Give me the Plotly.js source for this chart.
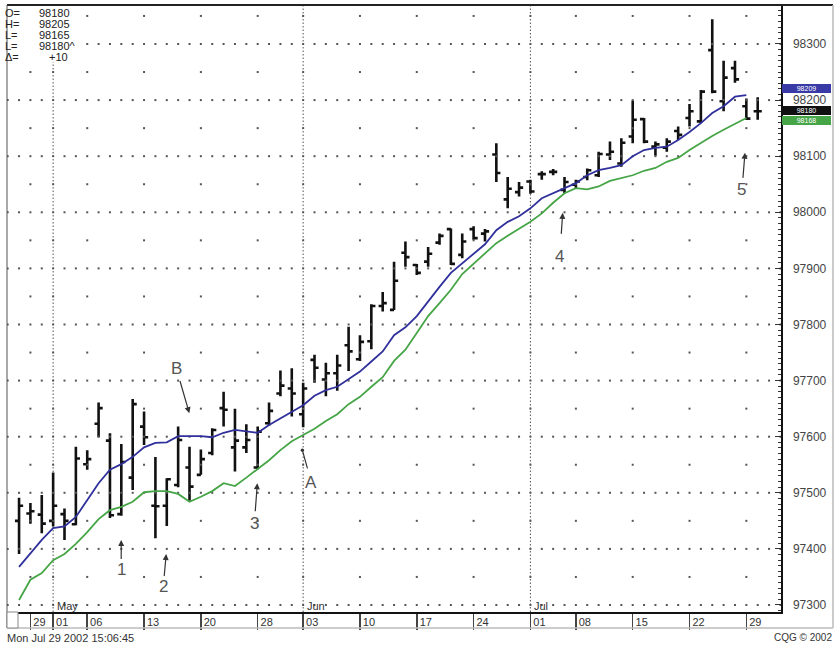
<!DOCTYPE html>
<html><head><meta charset="utf-8">
<script src="https://cdn.plot.ly/plotly-3.0.1.min.js"></script>
<style>html,body{margin:0;padding:0;background:#fff;}#chart{width:839px;height:648px;}</style>
</head><body><div id="chart"></div>
<script>
// ---- data ----
const openP  = [97450,97463,97461,97450,97462,97444,97551,97623,97593,97462,97527,97618,97477,97477,97514,97545,97532,97571,97651,97581,97581,97545,97624,97677,97686,97640,97737,97702,97713,97763,97738,97770,97833,97826,97928,97906,97912,97946,97970,97924,97970,97962,98103,98023,98036,98055,98068,98072,98040,98049,98063,98066,98103,98087,98135,98166,98117,98115,98145,98168,98162,98289,98198,98257,98189,98180];
const highP  = [97491,97482,97496,97536,97472,97582,97576,97661,97606,97587,97667,97645,97564,97526,97618,97582,97577,97615,97680,97650,97622,97618,97661,97718,97722,97696,97746,97732,97746,97796,97781,97836,97858,97912,97948,97908,97938,97962,97971,97962,97975,97970,98123,98063,98054,98058,98073,98077,98063,98058,98078,98108,98126,98132,98199,98168,98126,98132,98153,98193,98218,98344,98270,98270,98203,98205];
const lowP   = [97391,97445,97428,97440,97416,97442,97541,97599,97455,97459,97505,97585,97419,97441,97510,97486,97532,97567,97618,97538,97571,97542,97620,97672,97636,97617,97696,97672,97682,97717,97735,97756,97823,97826,97903,97888,97903,97942,97906,97918,97951,97948,98054,98007,98028,98033,98058,98066,98034,98043,98057,98063,98093,98081,98123,98123,98101,98108,98129,98153,98159,98212,98180,98231,98165,98165];
const closeP = [97477,97467,97445,97477,97450,97561,97560,97651,97460,97555,97658,97599,97476,97524,97594,97511,97560,97612,97648,97593,97594,97609,97646,97691,97677,97686,97723,97713,97727,97752,97769,97833,97838,97878,97920,97892,97926,97958,97908,97948,97954,97966,98070,98042,98044,98037,98068,98072,98054,98055,98075,98104,98108,98124,98165,98126,98121,98126,98138,98180,98215,98215,98240,98237,98167,98180];
const blueMA = [97368,97392,97416,97437,97440,97457,97487,97517,97541,97551,97564,97581,97589,97590,97601,97601,97601,97599,97607,97612,97610,97607,97621,97633,97645,97656,97673,97683,97689,97703,97716,97734,97752,97781,97795,97815,97842,97867,97892,97909,97926,97943,97968,97983,97993,98007,98025,98034,98042,98052,98066,98075,98079,98084,98100,98111,98115,98117,98129,98143,98159,98177,98189,98206,98209,null];
const greenMA= [97309,97345,97357,97380,97391,97409,97430,97453,97469,97475,97484,97501,97503,97503,97498,97484,97493,97503,97517,97512,97527,97542,97558,97576,97592,97603,97614,97628,97640,97658,97671,97689,97706,97735,97755,97785,97815,97838,97862,97890,97908,97927,97945,97958,97970,97983,97998,98017,98034,98043,98041,98046,98056,98061,98066,98074,98079,98090,98097,98111,98124,98136,98147,98157,98168,null];
const barIdx = openP.map((_, i) => i);
const tickIdx  = [1,3,6,11,16,21,25,30,35,40,45,49,54,59,64];
const tickText = ['29','01','06','13','20','28','03','10','17','24','01','08','15','22','29'];
const monthIdx = [3,25,45];
const monthText = ['May','Jun','Jul'];
const gridLevels = [97300,97400,97500,97600,97700,97800,97900,98000,98100,98200,98300];
const halfLevels = [97350,97450,97550,97650,97750,97850,97950,98050,98150,98250,98350];
const header = [['O=','98180'],['H=','98205'],['L=','98165'],['L=','98180^'],['\u0394=','+10']];
const calloutText = ['1','2','3','4','5','B','A'];
const arrowX      = [8.99,12.95,20.97,47.84,63.88,14.98,24.93];
const arrowY      = [97416,97391,97517,97999,98106,97642,97576];
const labelDX     = [0,-3,-3,-3,-3,-13,9];
const labelDY     = [30,33,40,44,37,-45,32];
const labelGap    = [1,1,2,13,2,3,4];

// ---- helpers (pixel -> paper) ----
const px = x => (x - 7) / 774;
const py = y => (612 - y) / 607;
const FONT = 'Liberation Sans, Arial, sans-serif';

// dotted grid rows: a dot at every bar slot (plus one slot either side)
const gridSlots = [-1].concat(barIdx, [barIdx.length, barIdx.length + 1]);
const gX = [], gY = [];
gridLevels.forEach(l => gridSlots.forEach(s => { gX.push(s); gY.push(l); }));
const dotX = [], dotY = [];
tickIdx.forEach(t => halfLevels.forEach(h => { dotX.push(t); dotY.push(h); }));

const traces = [
  {type:'scatter', mode:'markers', x:gX, y:gY, marker:{size:2, color:'#555', symbol:'square'}, hoverinfo:'skip'},
  {type:'scatter', mode:'markers', x:dotX, y:dotY, marker:{size:2, color:'#555', symbol:'square'}, hoverinfo:'skip'},
  {type:'scatter', mode:'lines', x:barIdx, y:greenMA, line:{color:'#46a546', width:1.8}, hoverinfo:'skip'},
  {type:'scatter', mode:'lines', x:barIdx, y:blueMA, line:{color:'#30309c', width:1.8}, hoverinfo:'skip'},
  {type:'ohlc', x:barIdx, open:openP, high:highP, low:lowP, close:closeP, tickwidth:0.36,
   increasing:{line:{color:'#111', width:2.6}}, decreasing:{line:{color:'#111', width:2.6}}, hoverinfo:'skip'}
];

const shapes = [];
monthIdx.forEach(m => shapes.push({type:'line', xref:'x', yref:'paper', x0:m, x1:m, y0:0, y1:1,
  line:{color:'#555', width:1, dash:'1.5px,2px'}, layer:'below'}));
shapes.push({type:'rect', xref:'paper', yref:'paper', x0:px(7), x1:px(84), y0:py(62), y1:py(6), fillcolor:'#fff', line:{width:0}, layer:'above'});
shapes.push({type:'line', xref:'paper', yref:'paper', x0:px(7), x1:px(833), y0:py(5), y1:py(5), line:{color:'#222', width:2}});
shapes.push({type:'line', xref:'paper', yref:'paper', x0:px(7), x1:px(7), y0:py(5), y1:py(628), line:{color:'#555', width:1}});
shapes.push({type:'line', xref:'paper', yref:'paper', x0:px(833), x1:px(833), y0:py(5), y1:py(628), line:{color:'#bbb', width:1.5}});
shapes.push({type:'line', xref:'paper', yref:'paper', x0:px(7), x1:px(833), y0:py(628), y1:py(628), line:{color:'#bbb', width:1.5}});
shapes.push({type:'rect', xref:'paper', yref:'paper', x0:px(7), x1:px(18), y0:py(628), y1:py(612), fillcolor:'#fff', line:{color:'#888', width:1}});

const ann = [];
header.forEach((h, k) => {
  const yy = py(12.7 + k * 11);
  ann.push({xref:'paper', yref:'paper', x:px(3), y:yy, xanchor:'left', yanchor:'middle', text:h[0], showarrow:false, font:{family:FONT, size:11, color:'#222'}});
  ann.push({xref:'paper', yref:'paper', x:px(k === 4 ? 47 : 37), y:yy, xanchor:'left', yanchor:'middle', text:h[1], showarrow:false, font:{family:FONT, size:11, color:'#222'}});
});
monthIdx.forEach((m, k) => ann.push({xref:'x', yref:'paper', x:m, y:py(606), xanchor:'left', yanchor:'middle', xshift:2,
  text:monthText[k], showarrow:false, font:{family:FONT, size:11, color:'#333'}}));
calloutText.forEach((t, k) => ann.push({xref:'x', yref:'y', x:arrowX[k], y:arrowY[k], ax:labelDX[k], ay:labelDY[k],
  text:t, showarrow:true, arrowhead:(t === 'A' ? 6 : 2), arrowsize:(t === 'A' ? 0.7 : 1), arrowwidth:1.2, arrowcolor:'#333',
  standoff:0, startstandoff:labelGap[k], borderpad:0, font:{family:FONT, size:17, color:'#555'}}));
const lastClose = closeP[closeP.length - 1];
const lastBlue = blueMA[blueMA.length - 2];
const lastGreen = greenMA[greenMA.length - 2];
// value, yshift (px), background  (price tags on the right axis; the 98200 tick label stays visible between them)
const boxes = [
  [lastBlue, 95.05 - 89, '#3a3aa6'],
  [lastClose, 111.3 - 110.5, '#111'],
  [lastGreen, 118.05 - 121, '#46a546']
];
boxes.forEach(b => ann.push({xref:'paper', yref:'y', x:px(782), y:b[0], yshift:b[1], xanchor:'left', yanchor:'middle',
  text:String(b[0]), showarrow:false, bgcolor:b[2], width:49, height:9, borderpad:0, borderwidth:0, align:'center',
  font:{family:FONT, size:7, color:'#fff'}}));
ann.push({xref:'paper', yref:'paper', x:px(5), y:py(638), xanchor:'left', yanchor:'middle', text:'Mon Jul 29 2002 15:06:45', showarrow:false, font:{family:FONT, size:11, color:'#333'}});
ann.push({xref:'paper', yref:'paper', x:px(834), y:py(637), xanchor:'right', yanchor:'middle', text:'CQG \u00a9 2002', showarrow:false, font:{family:FONT, size:10, color:'#333'}});

const layout = {
  width:839, height:648, margin:{l:7, r:58, t:5, b:36},
  paper_bgcolor:'#fff', plot_bgcolor:'#fff', showlegend:false, hovermode:false,
  xaxis:{range:[-1.06, 67.05], tickvals:tickIdx, ticktext:tickText, ticks:'outside', ticklen:16, tickwidth:1.5, tickcolor:'#444',
    showgrid:false, zeroline:false, showline:true, linecolor:'#111', linewidth:1.5, rangeslider:{visible:false},
    ticklabelshift:9, ticklabelstandoff:-17, tickfont:{family:FONT, size:11, color:'#333'}, fixedrange:true},
  yaxis:{side:'right', range:[97287.5, 98369.5], tick0:97300, dtick:100, tickformat:'d', ticks:'inside', ticklen:6, tickcolor:'#333',
    minor:{dtick:10, ticks:'inside', ticklen:3, tickcolor:'#333', showgrid:false},
    showgrid:false, zeroline:false, showline:true, linecolor:'#111', linewidth:1.5,
    ticklabelstandoff:8, tickfont:{family:FONT, size:12, color:'#444'}, fixedrange:true},
  shapes:shapes, annotations:ann
};
Plotly.newPlot('chart', traces, layout, {staticPlot:true, displayModeBar:false});
</script></body></html>
